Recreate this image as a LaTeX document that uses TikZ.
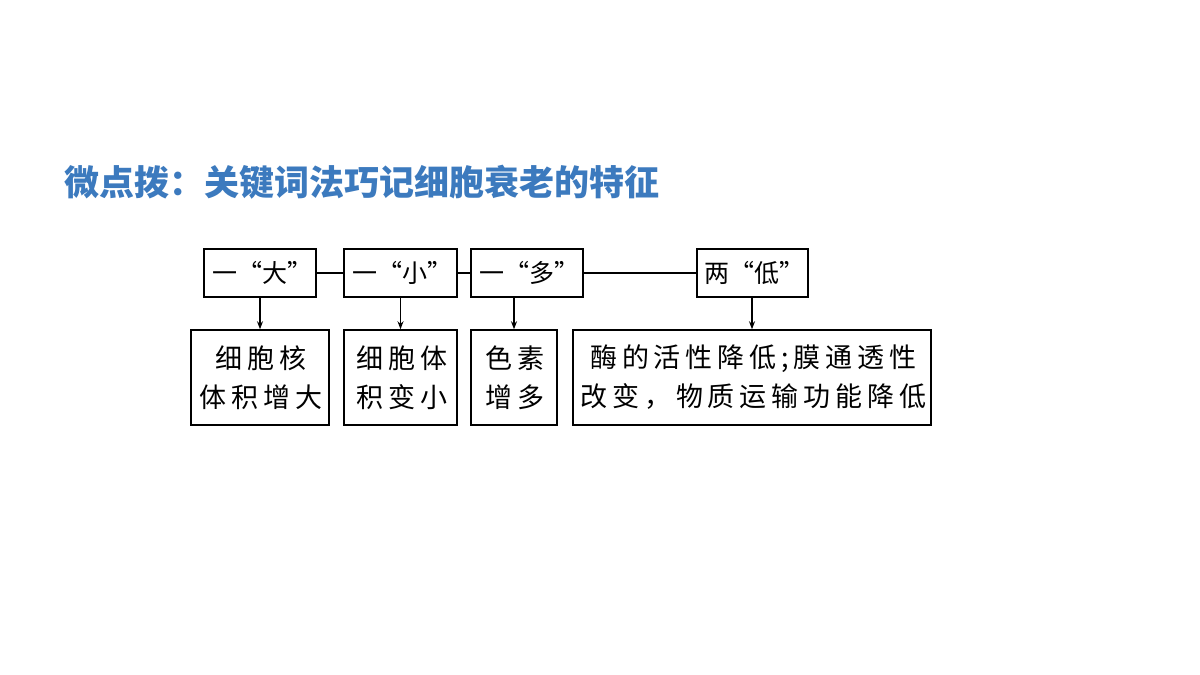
\documentclass[tikz,border=0pt]{standalone}
\usepackage{fontspec}
\usetikzlibrary{arrows.meta}
\newfontfamily\cjk{Noto Sans CJK SC}
\newfontfamily\cjksp[LetterSpace=18]{Noto Sans CJK SC}
\definecolor{titleblue}{RGB}{60,122,190}
\tikzset{
  box/.style={draw=black, line width=1.5pt, inner sep=0pt, align=center},
  topbox/.style={box, minimum height=48pt, font=\cjk\fontsize{25}{30}\selectfont},
  botbox/.style={box, minimum height=95pt, font=\cjksp\fontsize{27}{39}\selectfont},
  link/.style={line width=1.3pt},
  arr/.style={line width=1.3pt, -{Stealth[length=8pt,width=6pt]}}
}
\begin{document}
\begin{tikzpicture}[x=1pt,y=1pt]
\fill[white] (0,0) rectangle (1200,675);
\useasboundingbox (0,0) rectangle (1200,675);
\node[anchor=west, text=titleblue, font=\cjk\bfseries\fontsize{35}{38}\selectfont, inner sep=0pt] (title) at (64,493) {微点拨：关键词法巧记细胞衰老的特征};
% top boxes
\node[topbox, minimum width=112pt] (A) at (260,402) {\hspace*{4pt}一“大”};
\node[topbox, minimum width=113pt] (B) at (400.5,402) {\hspace*{4pt}一“小”};
\node[topbox, minimum width=112pt] (C) at (527,402) {\hspace*{4pt}一“多”};
\node[topbox, minimum width=111pt] (D) at (752.5,402) {\hspace*{4pt}两“低”};
% bottom boxes
\node[botbox, minimum width=138pt] (E) at (260,297.5) {\hspace*{2.5pt}细胞核\\\hspace*{2.5pt}体积增大};
\node[botbox, minimum width=113pt] (F) at (400.5,297.5) {\hspace*{2.5pt}细胞体\\\hspace*{2.5pt}积变小};
\node[botbox, minimum width=86pt] (G) at (514,297.5) {\hspace*{2.5pt}色素\\\hspace*{2.5pt}增多};
\node[botbox, minimum width=358pt] (H) at (752,297.5) {\hspace*{2.5pt}酶的活性降低;膜通透性\\\hspace*{2.5pt}改变，物质运输功能降低};
% links
\draw[link] (A.east) -- (B.west);
\draw[link] (B.east) -- (C.west);
\draw[link] (C.east) -- (D.west);
% arrows
\draw[arr] (A.south) -- (E.north);
\draw[arr] (B.south) -- (F.north);
\draw[arr] (C.south -| G.north) -- (G.north);
\draw[arr] (D.south -| H.north) -- (H.north);
\end{tikzpicture}
\end{document}
